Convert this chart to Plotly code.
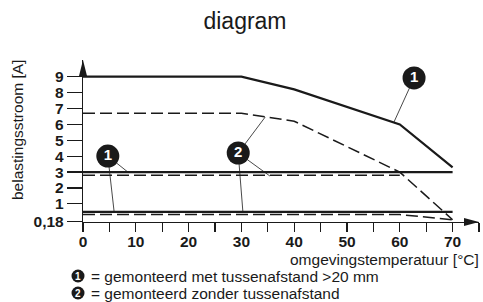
import plotly.graph_objects as go

# ---- data ----
temp_sep_upper = [0, 30, 40, 60, 70]
sep_upper = [9.0, 9.0, 8.2, 6.0, 3.3]

temp_nosep_upper = [0, 30, 40, 60, 70]
nosep_upper = [6.7, 6.7, 6.2, 3.0, 0.0]

temp_sep_mid = [0, 70]
sep_mid = [3.0, 3.0]

temp_nosep_mid = [0, 60]
nosep_mid = [2.8, 2.8]

temp_sep_low = [0, 70]
sep_low = [0.5, 0.5]

temp_nosep_low = [0, 60, 70]
nosep_low = [0.33, 0.33, 0.0]

x_tick_vals = [0, 10, 20, 30, 40, 50, 60, 70]
x_tick_text = ["0", "10", "20", "30", "40", "50", "60", "70"]
y_tick_vals = [-0.12, 1, 2, 3, 4, 5, 6, 7, 8, 9]
y_tick_text = ["0,18", "1", "2", "3", "4", "5", "6", "7", "8", "9"]

callout_text = ["1", "1", "2"]
callout_x = [62.7, 4.7, 29.4]
callout_y = [8.92, 4.01, 4.2]
# (callout index, target temperature, target current)
leader_targets = [(0, 58.9, 6.15), (1, 8.5, 3.0), (1, 5.9, 0.49),
                  (2, 34.5, 6.46), (2, 35.4, 2.75), (2, 30.3, 0.43)]

legend_lines = ["= gemonteerd met tussenafstand >20 mm",
                "= gemonteerd zonder tussenafstand"]
legend_nums = ["1", "2"]

# ---- figure ----
W, H = 483, 302
ML, MR, MT, MB = 83, 4, 60, 80
PW, PH = W - ML - MR, H - MT - MB
INK = "#1a1a1a"
FONT = "Liberation Sans"

def px_x(p):
    return (p - ML) / PW

def px_y(p):
    return (H - MB - p) / PH

fig = go.Figure()

solid = dict(color=INK, width=2.2)
dashed = dict(color=INK, width=1.5, dash="12px,5px")

# leaders first (underneath)
for idx, tx, ty in leader_targets:
    fig.add_trace(go.Scatter(x=[callout_x[idx], tx], y=[callout_y[idx], ty],
                             mode="lines", line=dict(color=INK, width=0.8),
                             hoverinfo="skip", showlegend=False))

for xs, ys, st in [(temp_sep_upper, sep_upper, solid),
                   (temp_nosep_upper, nosep_upper, dashed),
                   (temp_sep_mid, sep_mid, solid),
                   (temp_nosep_mid, nosep_mid, dashed),
                   (temp_sep_low, sep_low, solid),
                   (temp_nosep_low, nosep_low, dashed)]:
    fig.add_trace(go.Scatter(x=xs, y=ys, mode="lines", line=st,
                             showlegend=False, hoverinfo="skip", cliponaxis=False))

fig.add_trace(go.Scatter(x=callout_x, y=callout_y, mode="markers+text",
                         text=callout_text, textposition="middle center",
                         marker=dict(size=23, color=INK, line=dict(width=0)),
                         textfont=dict(family=FONT, size=15, color="white", weight="bold"),
                         cliponaxis=False, showlegend=False, hoverinfo="skip"))

shapes = [
    # y-axis arrow
    dict(type="path", xref="paper", yref="paper", xsizemode="pixel", ysizemode="pixel",
         xanchor=0, yanchor=1, path="M 0 0 L -4 -16 L 4 -16 Z",
         fillcolor=INK, line=dict(width=0)),
    # x-axis arrow
    dict(type="path", xref="paper", yref="paper", xsizemode="pixel", ysizemode="pixel",
         xanchor=1, yanchor=0, path="M 0 0 L -15 4 L -15 -4 Z",
         fillcolor=INK, line=dict(width=0)),
]

annotations = [
    dict(text="belastingsstroom [A]", textangle=-90, xref="paper", yref="paper",
         x=px_x(17), y=px_y(130), xanchor="center", yanchor="middle", showarrow=False,
         font=dict(family=FONT, size=15.5, color=INK)),
    dict(text="omgevingstemperatuur [°C]", xref="paper", yref="paper",
         x=px_x(481), y=px_y(259), xanchor="right", yanchor="middle", showarrow=False,
         font=dict(family=FONT, size=15.5, color=INK)),
]

legend_y = [276, 293]
for txt, num, ly in zip(legend_lines, legend_nums, legend_y):
    shapes.append(dict(type="circle", xref="paper", yref="paper", xsizemode="pixel",
                       ysizemode="pixel", xanchor=px_x(78), yanchor=px_y(ly),
                       x0=-6.5, x1=6.5, y0=-6.5, y1=6.5, fillcolor=INK, line=dict(width=0)))
    annotations.append(dict(text=num, xref="paper", yref="paper", x=px_x(78), y=px_y(ly),
                            xanchor="center", yanchor="middle", showarrow=False,
                            font=dict(family=FONT, size=10, color="white", weight="bold")))
    annotations.append(dict(text=txt, xref="paper", yref="paper", x=px_x(89), y=px_y(ly),
                            xanchor="left", yanchor="middle", showarrow=False,
                            font=dict(family=FONT, size=15.5, color=INK)))

fig.update_layout(
    width=W, height=H,
    margin=dict(l=ML, r=MR, t=MT, b=MB, pad=0),
    paper_bgcolor="white", plot_bgcolor="white",
    title=dict(text="diagram", x=245 / W, y=1 - 21 / H, xref="container", yref="container",
               xanchor="center", yanchor="middle",
               font=dict(family=FONT, size=23, color=INK)),
    shapes=shapes, annotations=annotations,
    xaxis=dict(range=[0, 75], showgrid=False, zeroline=False, showline=True,
               linecolor=INK, linewidth=1.2, ticks="outside", ticklen=9, tickwidth=1.2,
               tickcolor=INK, tickvals=x_tick_vals, ticktext=x_tick_text,
               ticklabelstandoff=-4,
               minor=dict(dtick=5, tick0=0, ticks="outside", ticklen=9, tickwidth=1.2,
                          tickcolor=INK, showgrid=False),
               tickfont=dict(family=FONT, size=15.5, color=INK, weight="bold")),
    yaxis=dict(range=[-0.14, 10.05], showgrid=False, zeroline=False, showline=True,
               linecolor=INK, linewidth=1.2, ticks="outside", ticklen=15, tickwidth=1.2,
               tickcolor=INK, tickvals=y_tick_vals, ticktext=y_tick_text,
               tickfont=dict(family=FONT, size=15.5, color=INK, weight="bold")),
)

fig.write_html("out.html", config={"displayModeBar": False, "staticPlot": True},
               post_script="document.body.style.margin='0';document.body.style.overflow='hidden';")
